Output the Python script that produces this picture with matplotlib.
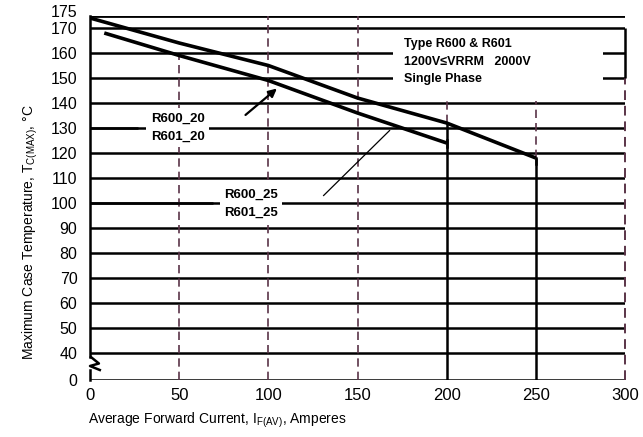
import numpy as np
import matplotlib.pyplot as plt
from matplotlib.patches import Rectangle
from matplotlib.transforms import ScaledTranslation

# derating curves (average forward current in A -> max case temperature in C)
amp_25 = [0, 50, 100, 150, 200, 250]
temp_25 = [174, 164, 155, 142, 132, 118]
amp_20 = [8, 50, 100, 150, 200]
temp_20 = [168, 159, 149, 136, 124]

x_ticks = [0, 50, 100, 150, 200, 250, 300]
y_grid = [40, 50, 60, 70, 80, 90, 100, 110, 120, 130, 140, 150, 160, 170]
y_tick_labels = ['0', '40', '50', '60', '70', '80', '90', '100', '110', '120',
                 '130', '140', '150', '160', '170', '175']

box_lines = ['Type R600 & R601', '1200V≤VRRM   2000V', 'Single Phase']
lbl_20 = ['R600_20', 'R601_20']
lbl_25 = ['R600_25', 'R601_25']

y0 = 29.2      # where "0" sits below the axis break
ytop = 175
dash_col = '#5a3448'
plt.rcParams['font.family'] = ['Liberation Sans', 'DejaVu Sans']

fig = plt.figure(figsize=(6.43, 4.37), dpi=100)
ax = fig.add_axes([90/643, 57/437, 535/643, 364.5/437])
ax.set_xlim(0, 300)
ax.set_ylim(y0, ytop)

# horizontal grid
ax.hlines(y_grid, 0, 300, color='black', lw=1.8, zorder=1)
ax.hlines([ytop], 0, 300, color='black', lw=2.0, zorder=1)
ax.hlines([y0], 0, 300, color='black', lw=1.8, zorder=1)

# left axis with the break marker
ax.plot([0, 0], [y0, 33.2], color='black', lw=1.8, zorder=2, clip_on=False)
ax.plot([0, 0], [38.4, ytop], color='black', lw=1.8, zorder=2, clip_on=False)
ax.plot([0.5, 5, 0, 5.5], [38.4, 35.8, 34.8, 33.2], color='black', lw=1.8, zorder=2, clip_on=False)

dash = (0, (5, 3))
top50 = np.interp(50, amp_20, temp_20)
ax.vlines(50, y0, top50, color=dash_col, lw=1.2, linestyles=[dash], zorder=1)
ax.vlines([100, 150], y0, ytop, color=dash_col, lw=1.2, linestyles=[dash], zorder=1)
ax.vlines(200, y0, temp_25[4], color='black', lw=1.8, zorder=1)
ax.vlines(200, temp_25[4], 141, color=dash_col, lw=1.2, linestyles=[dash], zorder=1)
ax.vlines(250, y0, temp_25[5], color='black', lw=1.8, zorder=1)
ax.vlines(250, temp_25[5], 141, color=dash_col, lw=1.2, linestyles=[dash], zorder=1)
ax.vlines(300, y0, 150, color=dash_col, lw=1.4, linestyles=[dash], zorder=1, clip_on=False)
ax.vlines(300, 150, 170, color='black', lw=1.8, zorder=1, clip_on=False)

# type / rating box
ax.add_patch(Rectangle((170, 145.5), 117.5, 21.5, facecolor='white', edgecolor='none', zorder=3))
for i, s in enumerate(box_lines):
    ax.text(176, 163.5 - i * 7.0, s, fontsize=9, fontweight='bold', ha='left', va='center', zorder=4)

# curve labels
for i, s in enumerate(lbl_20):
    ax.text(34, 133.8 - i * 7.4, s, fontsize=9.5, fontweight='bold', ha='left', va='center', zorder=4,
            bbox=dict(facecolor='white', edgecolor='none', pad=3))
for i, s in enumerate(lbl_25):
    ax.text(75, 103.2 - i * 7.2, s, fontsize=9.5, fontweight='bold', ha='left', va='center', zorder=4,
            bbox=dict(facecolor='white', edgecolor='none', pad=3))
ax.hlines(130, 0, 27, color='black', lw=1.8, zorder=5)
ax.hlines(100, 0, 69, color='black', lw=1.8, zorder=5)
ax.annotate('', xy=(106, 146.5), xytext=(86, 134.5),
            arrowprops=dict(arrowstyle='-|>', color='black', lw=1.6, mutation_scale=12), zorder=6)
ax.plot([131, 168], [103, 129], color='black', lw=0.9, zorder=6)

# curves
ax.plot(amp_25, temp_25, color='black', lw=2.6, zorder=5, solid_capstyle='butt')
ax.plot(amp_20, temp_20, color='black', lw=2.6, zorder=5, solid_capstyle='butt')
ax.plot([amp_25[-1]] * 2, [temp_25[-1], temp_25[-1] - 2.2], color='black', lw=1.8, zorder=5)
ax.plot([amp_20[-1]] * 2, [temp_20[-1] - 1.4, temp_20[-1] + 1.4], color='black', lw=1.8, zorder=5)

for sp in ax.spines.values():
    sp.set_visible(False)
ax.set_xticks(x_ticks)
ax.set_xticklabels([str(v) for v in x_ticks], fontsize=12)
ax.set_yticks([y0] + y_grid + [ytop])
ax.set_yticklabels(y_tick_labels, fontsize=11.5)
ax.tick_params(axis='both', length=0)
ax.tick_params(axis='x', pad=6)
ax.tick_params(axis='y', pad=9)

# nudge the top "175" label up so it clears "170"
top_lbl = ax.get_yticklabels()[-1]
top_lbl.set_transform(top_lbl.get_transform() + ScaledTranslation(0, 3/72, fig.dpi_scale_trans))

fig.text(88/643, 1 - 420/437, 'Average Forward Current, I$_{\\mathregular{F(AV)}}$, Amperes',
         fontsize=10, ha='left', va='center')
fig.text(30/643, 1 - 232/437, 'Maximum Case Temperature, T$_{\\mathregular{C(MAX)}}$, °C',
         fontsize=10, rotation=90, ha='center', va='center')

fig.savefig('out.png', dpi=100)
